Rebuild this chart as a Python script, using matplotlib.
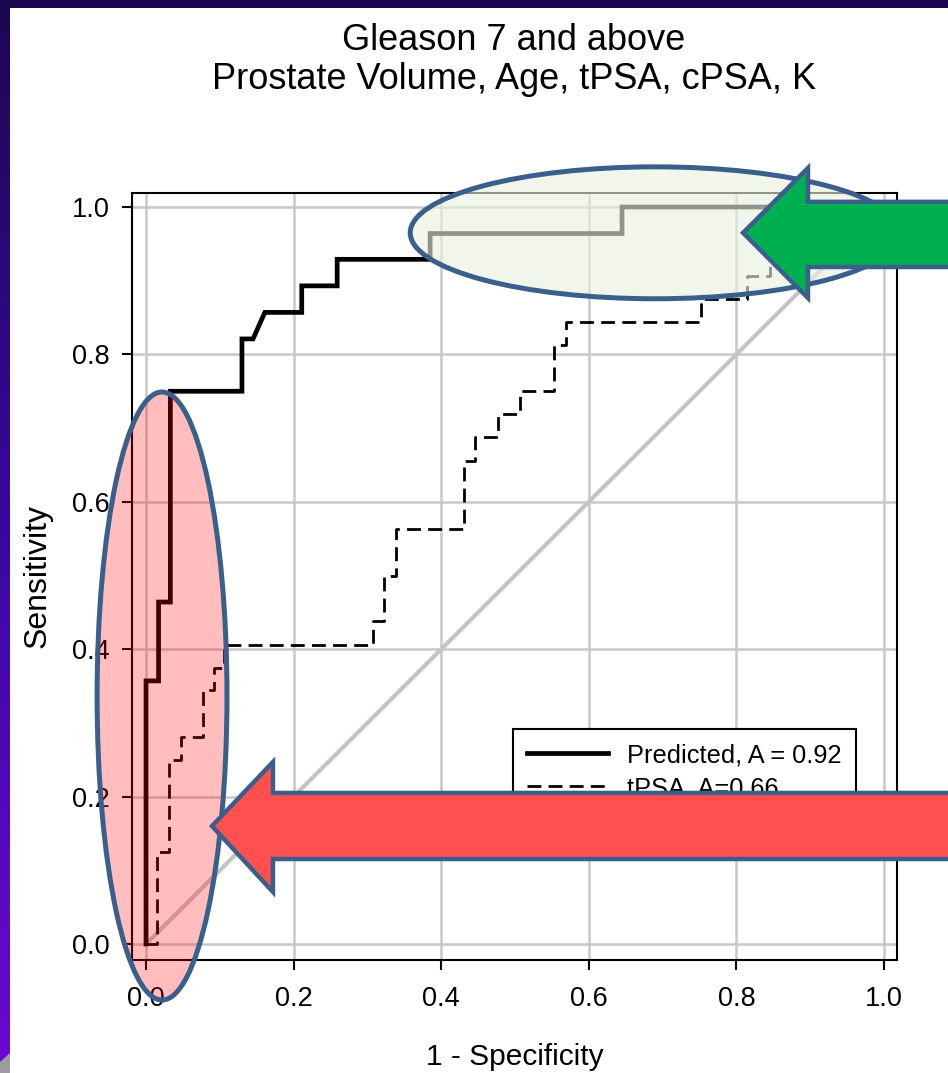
import matplotlib.pyplot as plt
import numpy as np
from matplotlib.patches import Ellipse, Polygon, Rectangle
from matplotlib.colors import LinearSegmentedColormap

plt.rcParams['font.family'] = ['Liberation Sans', 'DejaVu Sans']

# ROC points
pred_fpr = [0.0, 0.0, 0.017, 0.017, 0.033, 0.033, 0.130, 0.130, 0.145, 0.161,
            0.211, 0.211, 0.259, 0.259, 0.385, 0.385, 0.645, 0.645, 1.0]
pred_tpr = [0.0, 0.357, 0.357, 0.464, 0.464, 0.750, 0.750, 0.821, 0.821, 0.857,
            0.857, 0.893, 0.893, 0.929, 0.929, 0.964, 0.964, 1.0, 1.0]

tpsa_fpr = [0.0, 0.015, 0.015, 0.031, 0.031, 0.047, 0.047, 0.077, 0.077, 0.092,
            0.092, 0.105, 0.105, 0.308, 0.308, 0.322, 0.322, 0.339, 0.339, 0.431,
            0.431, 0.446, 0.446, 0.477, 0.477, 0.507, 0.507, 0.553, 0.553, 0.569,
            0.569, 0.752, 0.752, 0.814, 0.814, 0.845, 0.845, 0.870, 0.870, 0.900,
            0.900, 1.0]
tpsa_tpr = [0.0, 0.0, 0.125, 0.125, 0.250, 0.250, 0.281, 0.281, 0.344, 0.344,
            0.375, 0.375, 0.406, 0.406, 0.438, 0.438, 0.500, 0.500, 0.5625, 0.5625,
            0.656, 0.656, 0.6875, 0.6875, 0.719, 0.719, 0.750, 0.750, 0.8125, 0.8125,
            0.844, 0.844, 0.875, 0.875, 0.906, 0.906, 0.9375, 0.9375, 0.969, 0.969,
            1.0, 1.0]

ref_line = [0.0, 1.0]
ticks = [0.0, 0.2, 0.4, 0.6, 0.8, 1.0]
legend_labels = ['Predicted, A = 0.92', 'tPSA, A=0.66']
title_lines = ['Gleason 7 and above', 'Prostate Volume, Age, tPSA, cPSA, K']

W, H = 948, 1073
fig = plt.figure(figsize=(W / 100, H / 100), dpi=100, facecolor='white')

# slide border: dark top band and a violet gradient down the left edge
fig.patches.append(Rectangle((0, 1 - 8 / H), 1, 8 / H, transform=fig.transFigure,
                             facecolor='#1c0752', edgecolor='none', zorder=0))
ax_bg = fig.add_axes([0, 0, 10 / W, 1])
grad = np.linspace(0, 1, 256).reshape(-1, 1)
cmap = LinearSegmentedColormap.from_list('edge', ['#1c0752', '#3a08a0', '#6a0ad2'])
ax_bg.imshow(grad, aspect='auto', cmap=cmap, extent=[0, 1, 0, 1], origin='upper')
ax_bg.add_patch(Polygon([(0, 0), (0, 11 / H), (1, 20 / H), (1, 0)],
                        facecolor='#9c9c9c', edgecolor='none'))
ax_bg.set_xlim(0, 1)
ax_bg.set_ylim(0, 1)
ax_bg.axis('off')

ax = fig.add_axes([132 / W, 1 - 960 / H, 765 / W, 767 / H])
ax.set_xlim(-0.019, 1.0176)
ax.set_ylim(-0.0217, 1.019)

ax.grid(True, color='#c8c8c8', linewidth=1.8)
ax.set_axisbelow(True)

ax.plot(ref_line, ref_line, color='#c4c4c4', linewidth=3, zorder=2)
ax.plot(pred_fpr, pred_tpr, color='black', linewidth=3.4, zorder=3,
        solid_joinstyle='miter', label=legend_labels[0])
ax.plot(tpsa_fpr, tpsa_tpr, color='black', linewidth=2, zorder=3,
        linestyle=(0, (5, 2.6)), label=legend_labels[1])

ax.set_xticks(ticks)
ax.set_yticks(ticks)
ax.set_xticklabels([f'{t:.1f}' for t in ticks])
ax.set_yticklabels([f'{t:.1f}' for t in ticks])
ax.tick_params(direction='out', length=7, width=1.5, labelsize=19.5)
ax.tick_params(axis='x', pad=12)
ax.tick_params(axis='y', pad=9)
for s in ax.spines.values():
    s.set_linewidth(1.5)
ax.set_xlabel('1 - Specificity', fontsize=21.5, labelpad=22)
ax.set_ylabel('Sensitivity', fontsize=23, labelpad=14)

leg = ax.legend(loc='upper left', bbox_to_anchor=(0.498, 0.301), fontsize=18.3,
                frameon=True, fancybox=False, edgecolor='black', framealpha=1,
                handlelength=3.2, handletextpad=0.75, borderpad=0.55,
                labelspacing=0.35, borderaxespad=0)
leg.get_frame().set_linewidth(1.5)
leg.set_zorder(5)

fig.text(514 / W, 1 - 60 / H, '\n'.join(title_lines), ha='center', va='center',
         fontsize=26, linespacing=1.15)

# slide annotations
edge = '#3a5f8c'
ax.add_patch(Ellipse((0.0217, 0.3365), 0.176, 0.825, facecolor=(1, 0, 0, 0.26),
                     edgecolor=edge, linewidth=3.6, clip_on=False, zorder=6))
ax.add_patch(Ellipse((0.690, 0.965), 0.664, 0.179, facecolor=(0.92, 0.945, 0.87, 0.62),
                     edgecolor=edge, linewidth=3.6, clip_on=False, zorder=6))

green_arrow = [(0.809, 0.965), (0.897, 1.053), (0.897, 1.007), (1.15, 1.007),
               (1.15, 0.9186), (0.897, 0.9186), (0.897, 0.8765)]
ax.add_patch(Polygon(green_arrow, closed=True, facecolor='#00b050', edgecolor=edge,
                     linewidth=3.2, joinstyle='miter', clip_on=False, zorder=10))
red_arrow = [(0.0894, 0.160), (0.172, 0.247), (0.172, 0.205), (1.15, 0.205),
             (1.15, 0.1153), (0.172, 0.1153), (0.172, 0.0706)]
ax.add_patch(Polygon(red_arrow, closed=True, facecolor='#ff5050', edgecolor=edge,
                     linewidth=3.2, joinstyle='miter', clip_on=False, zorder=10))

fig.savefig('out.png', dpi=100, facecolor='white')
